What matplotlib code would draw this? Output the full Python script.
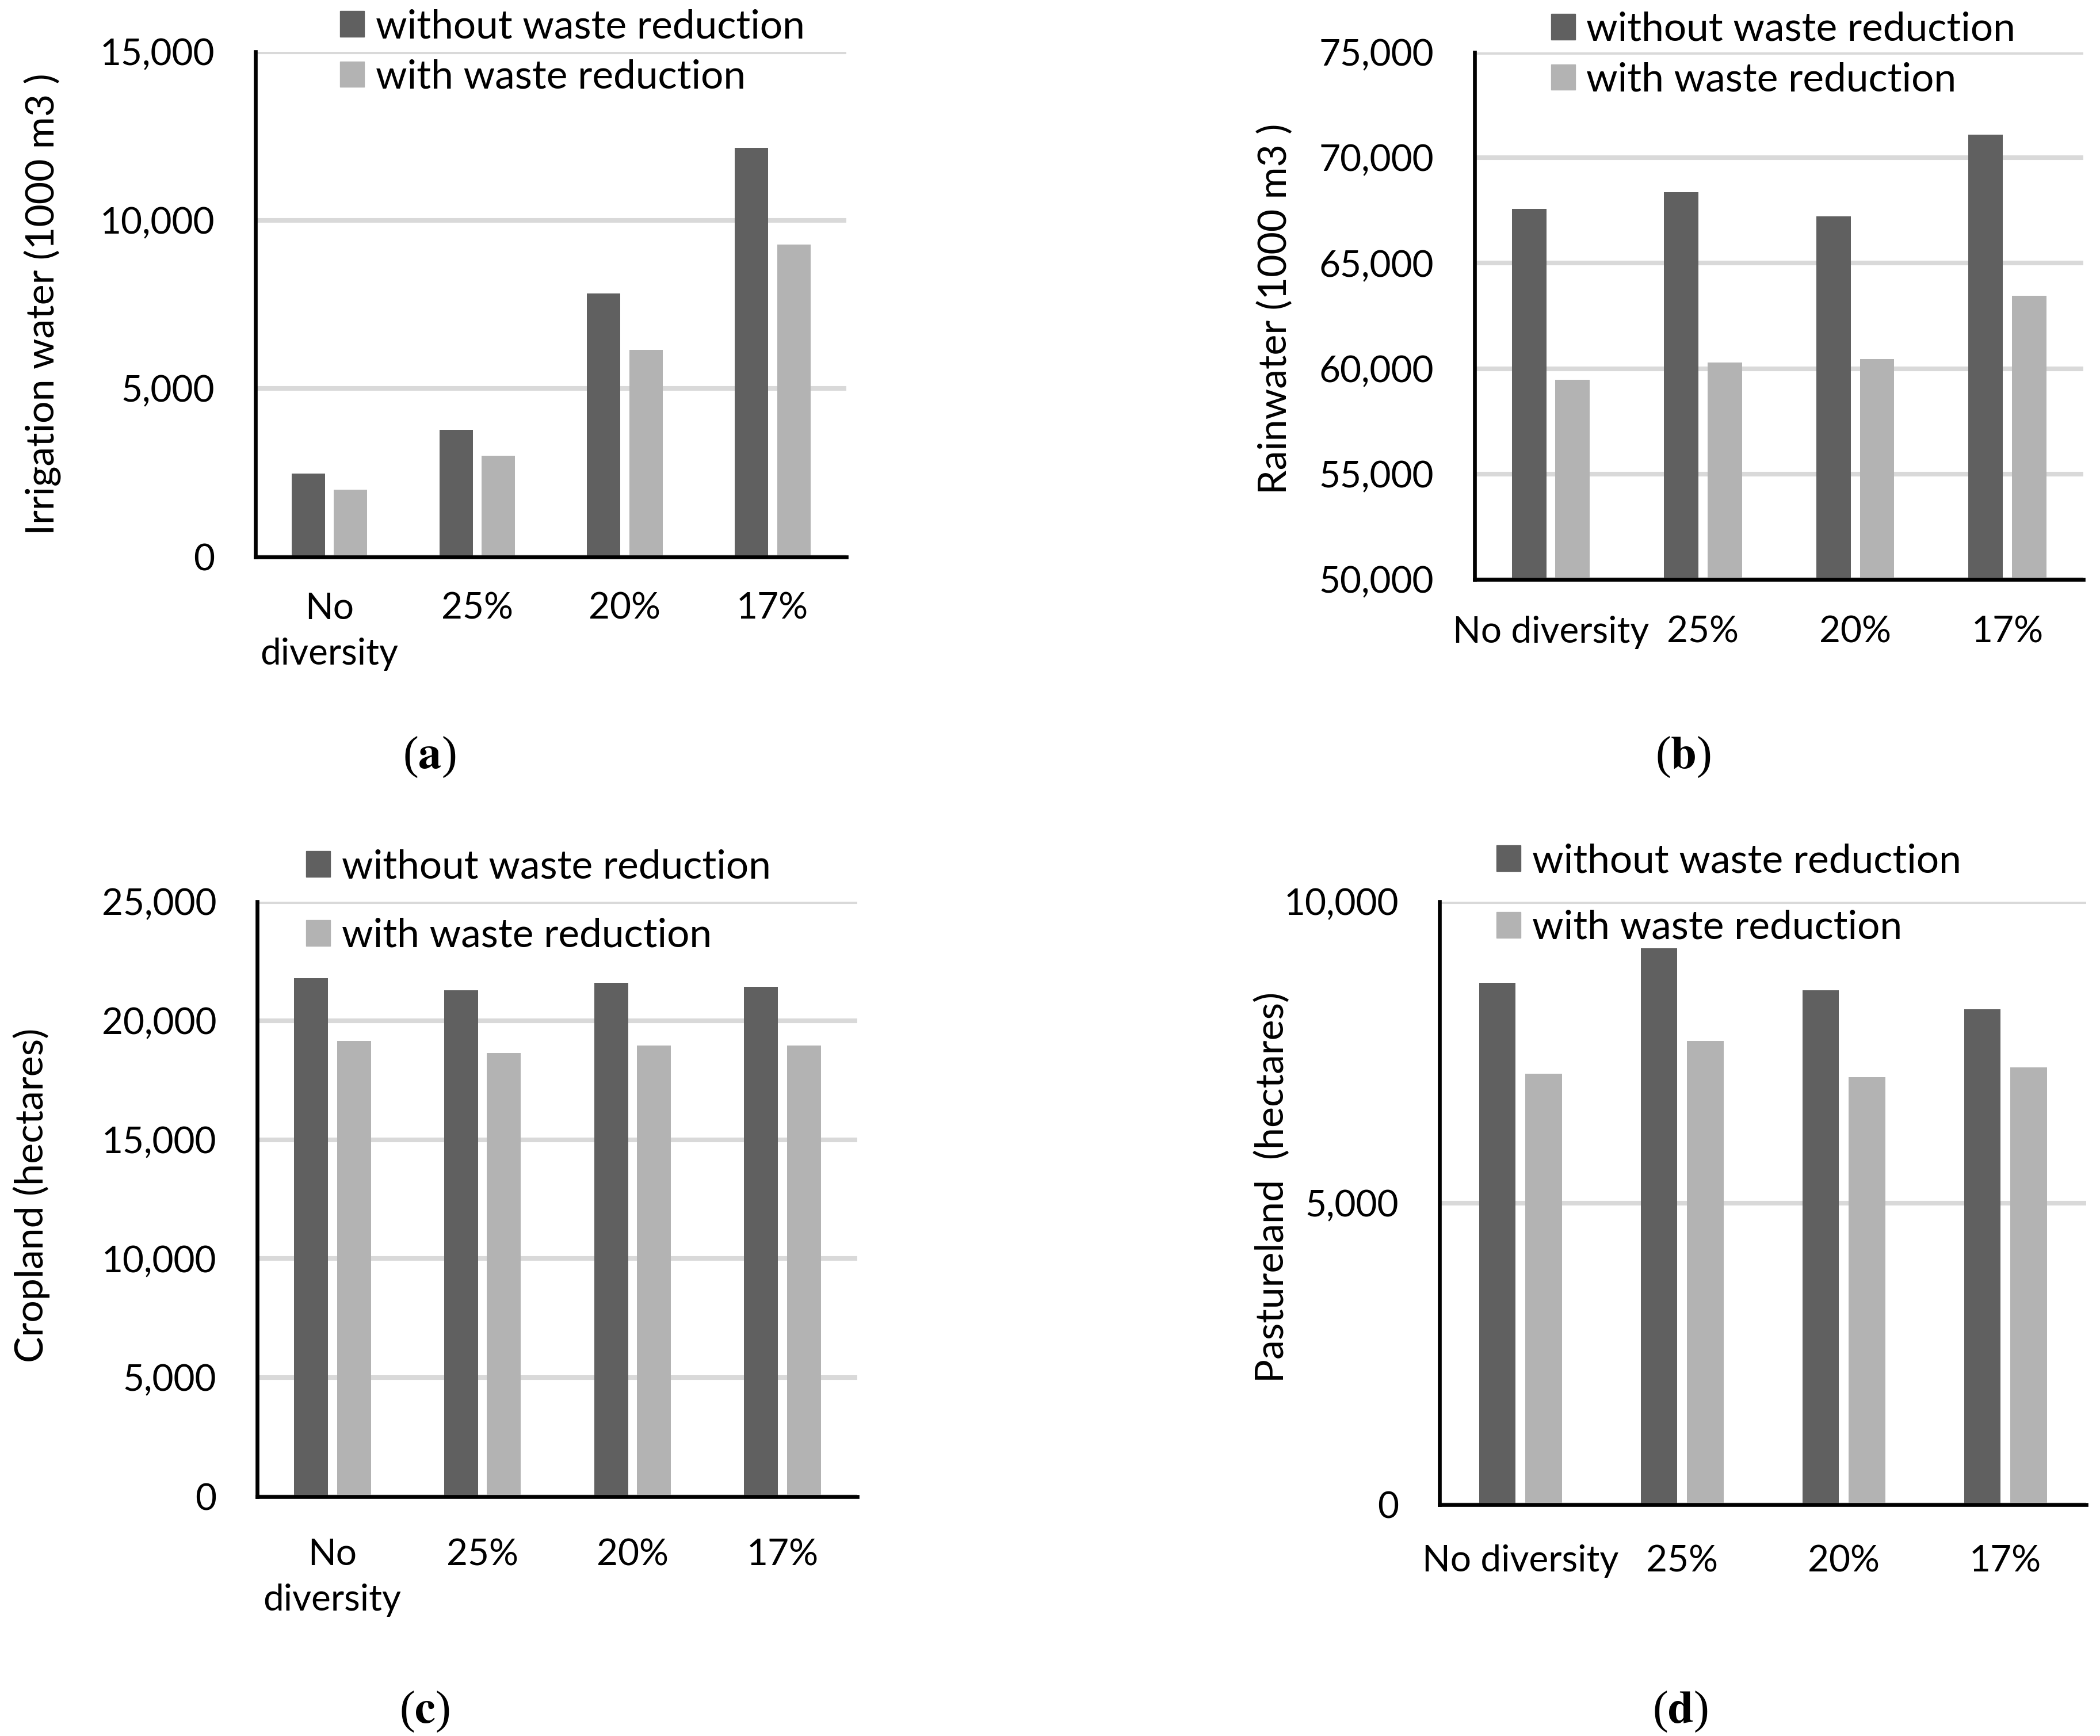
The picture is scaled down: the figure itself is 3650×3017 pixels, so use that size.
import numpy as np
from matplotlib import pyplot as plt
from matplotlib.patches import Patch

plt.rcParams['font.family'] = ['Lato', 'DejaVu Sans']
plt.rcParams['mathtext.fontset'] = 'stix'

# categories
cats_two = ['No\ndiversity', '25%', '20%', '17%']
cats_one = ['No diversity', '25%', '20%', '17%']
series_names = ['without waste reduction', 'with waste reduction']

# values
irrigation_without = [2480, 3780, 7830, 12150]
irrigation_with = [1990, 3010, 6150, 9280]
rain_without = [67580, 68370, 67220, 71090]
rain_with = [59460, 60290, 60450, 63460]
crop_without = [21780, 21280, 21580, 21430]
crop_with = [19160, 18640, 18960, 18960]
pasture_without = [8650, 9220, 8530, 8210]
pasture_with = [7140, 7690, 7090, 7250]

DARK = '#606060'
LIGHT = '#b3b3b3'
GRID = '#d9d9d9'
FS = 46       # tick labels
FS_LEG = 50   # legend text
FS_LAB = 49   # axis titles

fig = plt.figure(figsize=(36.5, 30.17), dpi=100)


def panel(rect, without, withr, cats, ylim, yticks, ylabel, ylab_xy,
          leg_xy, leg_space, xpad, tag, tag_xy):
    ax = fig.add_axes(rect)
    x = np.arange(len(cats))
    ax.bar(x - 0.142, without, 0.226, color=DARK, zorder=3)
    ax.bar(x + 0.144, withr, 0.226, color=LIGHT, zorder=3)
    ax.set_xlim(-0.5, len(cats) - 0.5)
    ax.set_ylim(ylim)
    ax.set_yticks(yticks)
    ax.set_yticklabels(['{:,}'.format(v) for v in yticks])
    ax.set_xticks(x)
    ax.set_xticklabels(cats, linespacing=1.45)
    ax.yaxis.grid(True, color=GRID, lw=5.8)
    ax.set_axisbelow(True)
    for s in ['top', 'right']:
        ax.spines[s].set_visible(False)
    for s in ['left', 'bottom']:
        ax.spines[s].set_linewidth(4.8)
        ax.spines[s].set_color('black')
        ax.spines[s].set_zorder(4)
    ax.tick_params(axis='y', length=0, pad=51, labelsize=FS)
    ax.tick_params(axis='x', length=0, pad=xpad, labelsize=FS)

    fig.text(ylab_xy[0], ylab_xy[1], ylabel, rotation=90, ha='center',
             va='center', fontsize=FS_LAB)

    handles = [Patch(color=DARK), Patch(color=LIGHT)]
    fig.legend(handles, series_names, loc='upper left', bbox_to_anchor=leg_xy,
               frameon=False, borderpad=0, borderaxespad=0, fontsize=FS_LEG,
               handlelength=0.607, handleheight=0.607, handletextpad=0.28,
               labelspacing=leg_space)

    fig.text(tag_xy[0], tag_xy[1], r'($\mathbf{' + tag + '}$)', ha='center',
             va='center', fontsize=58, family='Liberation Serif')
    return ax


panel([0.1216, 0.6792, 0.2814, 0.2910], irrigation_without, irrigation_with,
      cats_two, (0, 15000), [0, 5000, 10000, 15000],
      'Irrigation water (1000 m3 )', (0.0203, 0.8247),
      (0.1619, 0.995), 0.35, 44, 'a', (0.2044, 0.5640))

panel([0.7022, 0.6662, 0.2899, 0.3036], rain_without, rain_with,
      cats_one, (50000, 75000), [50000, 55000, 60000, 65000, 70000, 75000],
      'Rainwater (1000 m3 )', (0.6074, 0.822),
      (0.7386, 0.9934), 0.35, 45, 'b', (0.8014, 0.5640))

panel([0.1225, 0.1379, 0.2858, 0.3427], crop_without, crop_with,
      cats_two, (0, 25000), [0, 5000, 10000, 15000, 20000, 25000],
      'Cropland (hectares)', (0.0151, 0.3116),
      (0.1458, 0.5111), 0.82, 52, 'c', (0.2022, 0.0139))

panel([0.6855, 0.1333, 0.3079, 0.3474], pasture_without, pasture_with,
      cats_one, (0, 10000), [0, 5000, 10000],
      'Pastureland  (hectares)', (0.606, 0.3159),
      (0.7126, 0.5144), 0.76, 50, 'd', (0.8000, 0.0139))

fig.savefig('out.png', dpi=100)
